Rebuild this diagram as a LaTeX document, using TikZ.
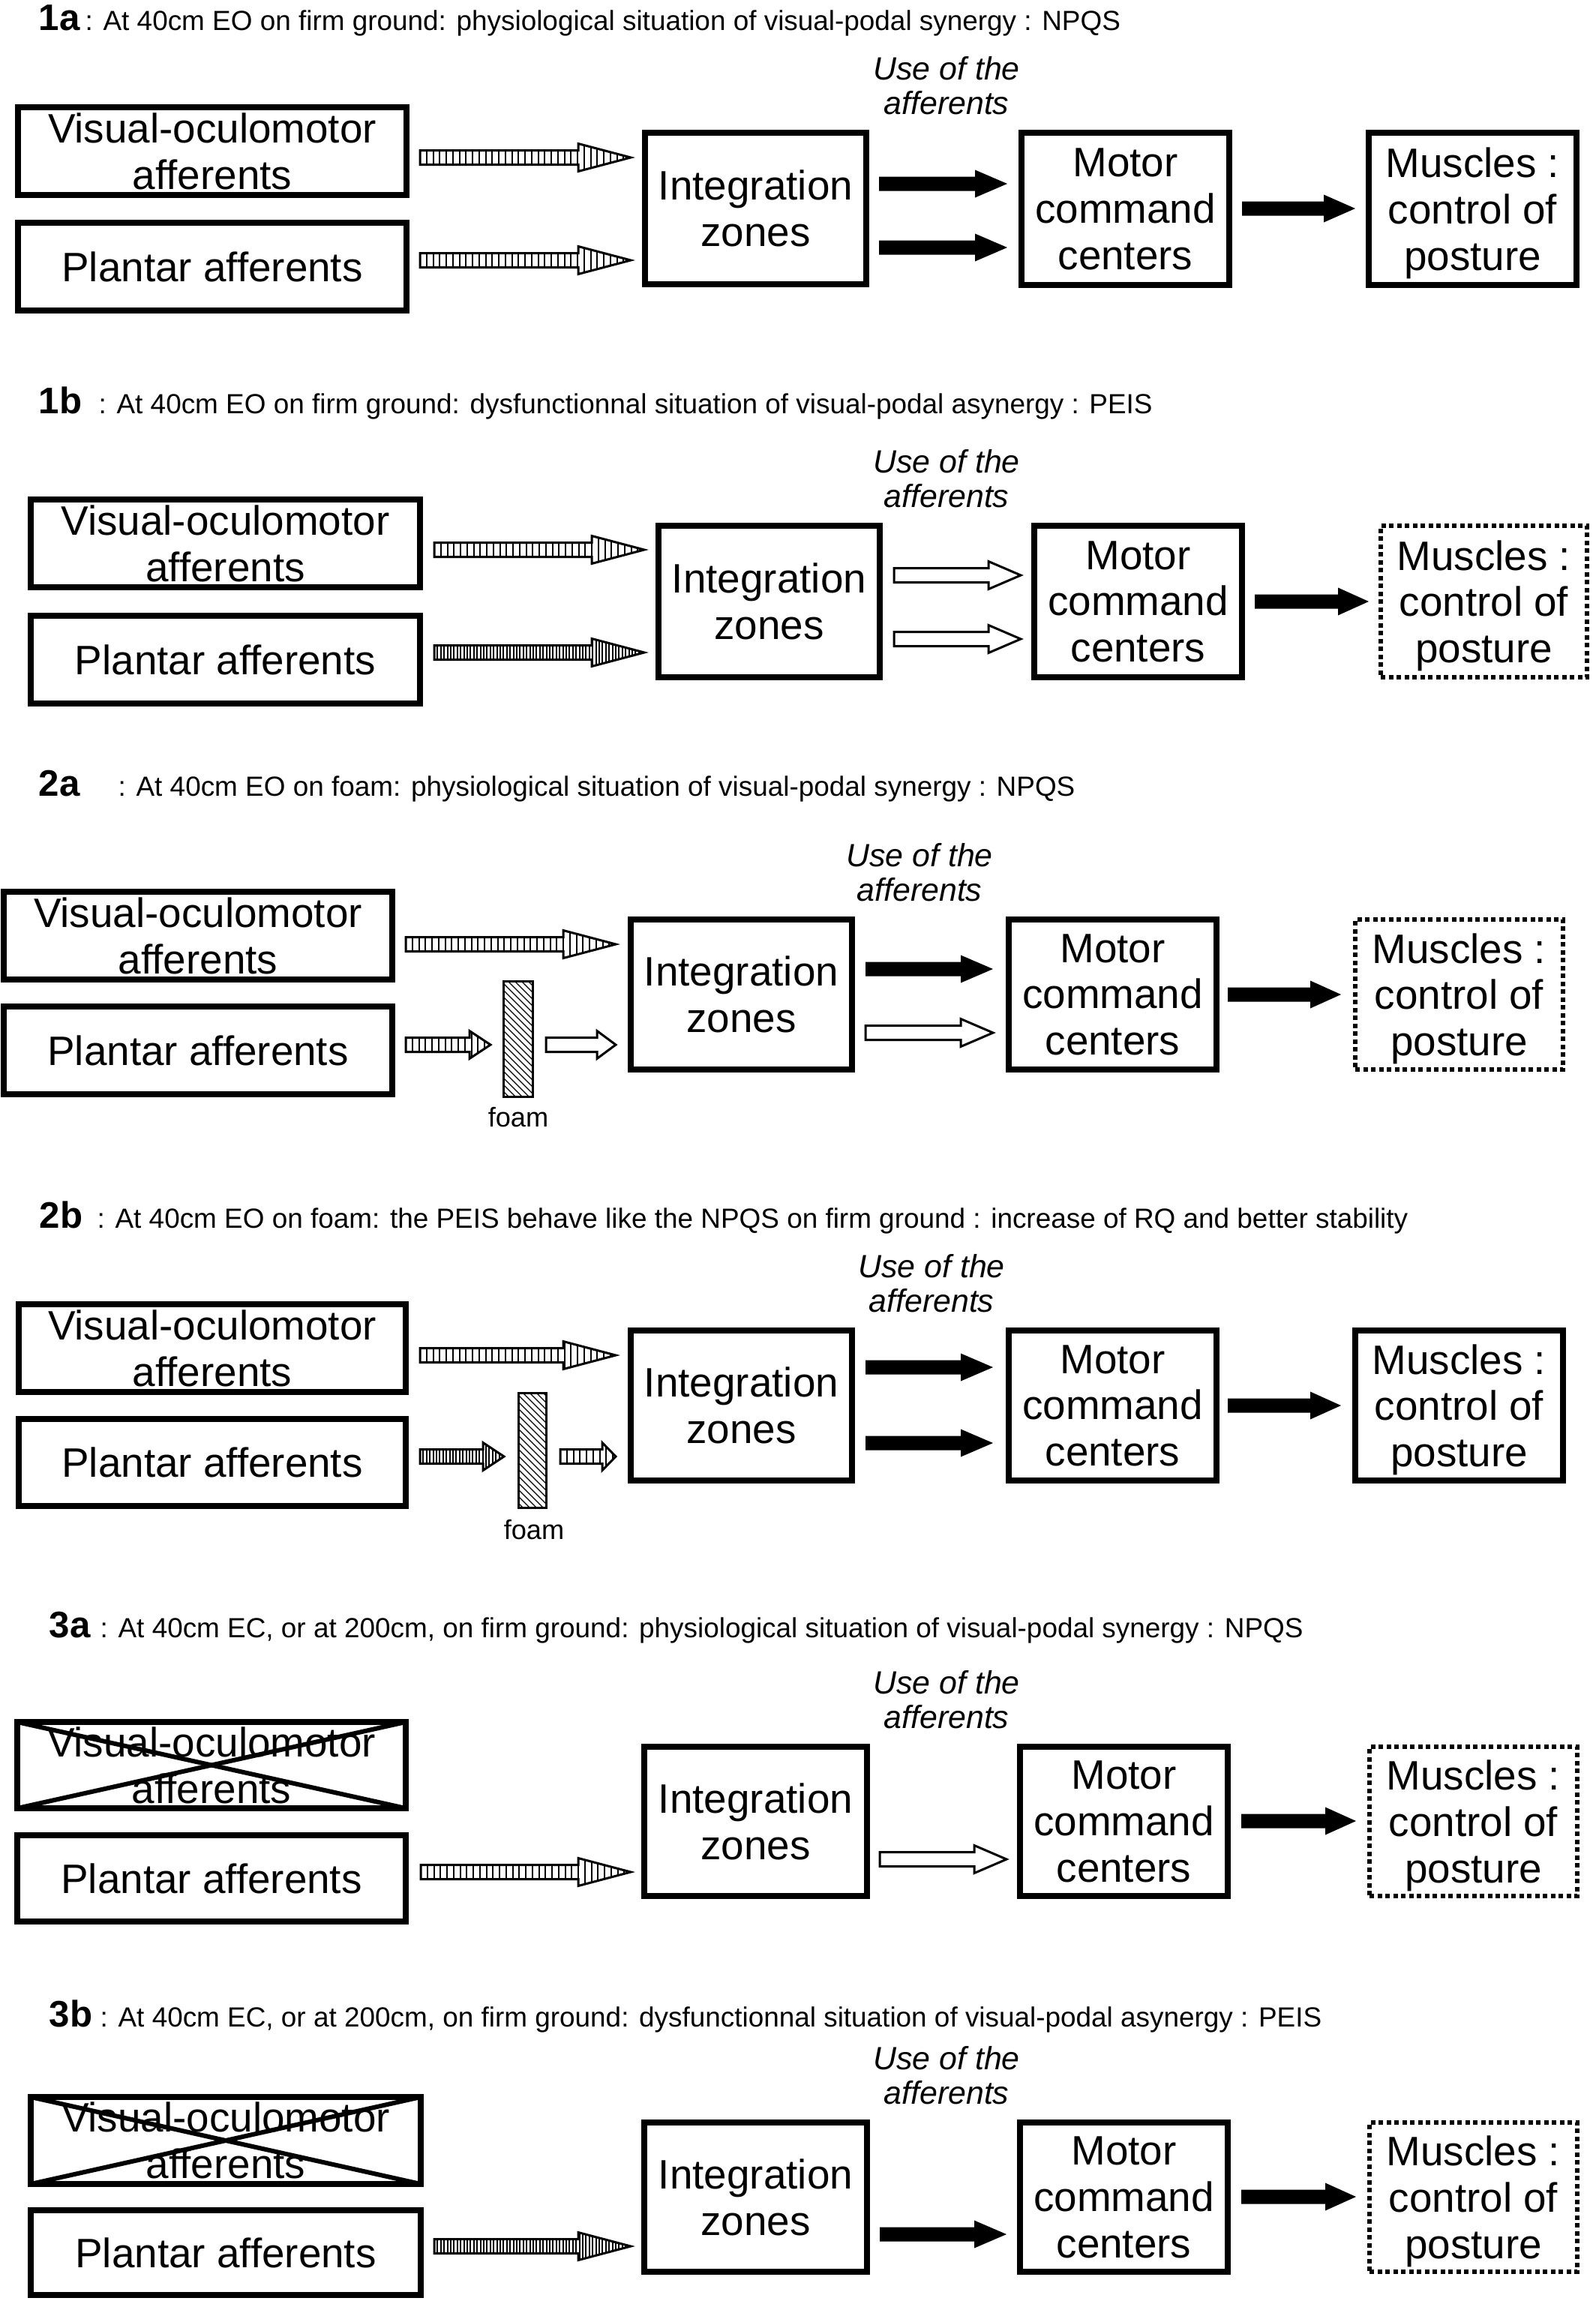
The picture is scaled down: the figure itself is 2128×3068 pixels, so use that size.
\documentclass[tikz,border=0pt]{standalone}
\usepackage{fontspec}
\setmainfont{Liberation Sans}
\tikzset{
  bx/.style={draw, line width=0.8mm, inner sep=0pt, align=center, text depth=0pt, font=\fontsize{15.6}{17.6}\selectfont},
  dotbx/.style={draw, line width=0.65mm, dash pattern=on 0.6mm off 0.45mm, inner sep=0pt, align=center, text depth=0pt, font=\fontsize{15.6}{17.6}\selectfont},
  ttl/.style={anchor=base west, inner sep=0pt, font=\fontsize{10.5}{12}\selectfont},
  lbl/.style={anchor=base west, inner sep=0pt, font=\fontsize{14}{14}\selectfont\bfseries},
  usetxt/.style={anchor=base, inner sep=0pt, font=\fontsize{12.2}{13}\selectfont\itshape},
  foamtxt/.style={anchor=base, inner sep=0pt, font=\fontsize{10.3}{12}\selectfont},
  crossline/.style={line width=0.6mm},
}
% box: name, x1, y1, x2, y2, style, text
\newcommand{\bxat}[7]{\node[#6, minimum width={(#4-#2-8)*0.1mm}, minimum height={(#5-#3-8)*0.1mm}] (#1) at ({(#2+#4)/2},{(#3+#5)/2}) {#7};}
% black arrow: x1, x2, y, head length
\newcommand{\blackarr}[4]{\fill[black] (#1,{#3-9.5}) -- ({#2-#4},{#3-9.5}) -- ({#2-#4},{#3-18.5}) -- (#2,#3) -- ({#2-#4},{#3+18.5}) -- ({#2-#4},{#3+9.5}) -- (#1,{#3+9.5}) -- cycle;}
% hollow arrow
\newcommand{\hollowarr}[4]{\draw[line width=0.3mm, fill=white, line join=miter] (#1,{#3-9.5}) -- ({#2-#4},{#3-9.5}) -- ({#2-#4},{#3-18.5}) -- (#2,#3) -- ({#2-#4},{#3+18.5}) -- ({#2-#4},{#3+9.5}) -- (#1,{#3+9.5}) -- cycle;}
% striped arrow: x1, x2, y, head length, stripe spacing
\newcommand{\stripedarr}[5]{%
  \begin{scope}
    \clip (#1,{#3-9.5}) -- ({#2-#4},{#3-9.5}) -- ({#2-#4},{#3-18.5}) -- (#2,#3) -- ({#2-#4},{#3+18.5}) -- ({#2-#4},{#3+9.5}) -- (#1,{#3+9.5}) -- cycle;
    \pgfmathsetmacro\sa{#1+#5}\pgfmathsetmacro\sb{#1+2*#5}
    \foreach \xx in {\sa,\sb,...,#2} \draw[line width=0.2mm] (\xx,{#3-20}) -- (\xx,{#3+20});
  \end{scope}
  \draw[line width=0.3mm, line join=miter] (#1,{#3-9.5}) -- ({#2-#4},{#3-9.5}) -- ({#2-#4},{#3-18.5}) -- (#2,#3) -- ({#2-#4},{#3+18.5}) -- ({#2-#4},{#3+9.5}) -- (#1,{#3+9.5}) -- cycle;}
% foam: x1, y1, x2, y2
\newcommand{\foamrect}[4]{%
  \begin{scope}
    \clip (#1,#2) rectangle (#3,#4);
    \foreach \tt in {-60,-51,...,160} \draw[line width=0.13mm] (#1,{#2+\tt}) -- ({#1+60},{#2+\tt+60});
  \end{scope}
  \draw[line width=0.3mm] (#1,#2) rectangle (#3,#4);}
% cross over a box
\newcommand{\crossbox}[1]{%
  \draw[crossline] ([shift={(4,4)}]#1.north west) -- ([shift={(-4,-4)}]#1.south east);
  \draw[crossline] ([shift={(-4,4)}]#1.north east) -- ([shift={(4,-4)}]#1.south west);}
\begin{document}
\begin{tikzpicture}[x=0.1mm, y=-0.1mm]
\useasboundingbox[fill=white] (0,0) rectangle (2128,3068);

% ---------------- 1a ----------------
\node[lbl] (t1a) at (51,40) {1a};
\node[ttl] (s1a) at (113,40) {: At 40cm EO on firm ground: physiological situation of visual-podal synergy : NPQS};
\bxat{vo1a}{20}{139}{546}{264}{bx}{Visual-oculomotor\\afferents}
\bxat{pl1a}{20}{293}{546}{418}{bx}{Plantar afferents}
\bxat{in1a}{856}{173}{1159}{383}{bx}{Integration\\zones}
\bxat{mo1a}{1358}{173}{1643}{384}{bx}{Motor\\command\\centers}
\bxat{mu1a}{1821}{173}{2106}{384}{bx}{Muscles :\\control of\\posture}
\node[usetxt] (ua1a) at (1262,106) {Use of the};
\node[usetxt] (ub1a) at (1262,152) {afferents};
\stripedarr{560}{841}{210}{70}{8.75}
\stripedarr{560}{841}{347}{70}{8.75}
\blackarr{1172}{1343}{245}{43}
\blackarr{1172}{1343}{330}{43}
\blackarr{1656}{1807}{278}{42}

% ---------------- 1b ----------------
\node[lbl] (t1b) at (51,551) {1b};
\node[ttl] (s1b) at (131,551) {: At 40cm EO on firm ground: dysfunctionnal situation of visual-podal asynergy : PEIS};
\bxat{vo1b}{37}{662}{564}{787}{bx}{Visual-oculomotor\\afferents}
\bxat{pl1b}{37}{817}{564}{942}{bx}{Plantar afferents}
\bxat{in1b}{874}{697}{1177}{907}{bx}{Integration\\zones}
\bxat{mo1b}{1375}{697}{1660}{907}{bx}{Motor\\command\\centers}
\bxat{mu1b}{1837}{697}{2120}{907}{dotbx}{Muscles :\\control of\\posture}
\node[usetxt] (ua1b) at (1262,630) {Use of the};
\node[usetxt] (ub1b) at (1262,676) {afferents};
\stripedarr{579}{859}{733}{70}{8.75}
\stripedarr{579}{859}{870}{70}{4.4}
\hollowarr{1192}{1361}{767}{43}
\hollowarr{1192}{1361}{852}{43}
\blackarr{1673}{1825}{802}{41}

% ---------------- 2a ----------------
\node[lbl] (t2a) at (51,1061) {2a};
\node[ttl] (s2a) at (157,1061) {: At 40cm EO on foam: physiological situation of visual-podal synergy : NPQS};
\bxat{vo2a}{1}{1185}{527}{1310}{bx}{Visual-oculomotor\\afferents}
\bxat{pl2a}{1}{1338}{527}{1463}{bx}{Plantar afferents}
\bxat{in2a}{837}{1222}{1140}{1430}{bx}{Integration\\zones}
\bxat{mo2a}{1341}{1222}{1626}{1430}{bx}{Motor\\command\\centers}
\bxat{mu2a}{1803}{1222}{2088}{1430}{dotbx}{Muscles :\\control of\\posture}
\node[usetxt] (ua2a) at (1226,1155) {Use of the};
\node[usetxt] (ub2a) at (1226,1201) {afferents};
\stripedarr{541}{821}{1259}{70}{8.75}
\stripedarr{541}{654}{1393}{28}{8.75}
\foamrect{671}{1308}{710}{1462}
\node[foamtxt] (fo2a) at (691,1502) {foam};
\hollowarr{728}{821}{1393}{25}
\blackarr{1154}{1324}{1292}{43}
\hollowarr{1154}{1324}{1377}{43}
\blackarr{1637}{1788}{1326}{41}

% ---------------- 2b ----------------
\node[lbl] (t2b) at (52,1637) {2b};
\node[ttl] (s2b) at (129,1637) {: At 40cm EO on foam: the PEIS behave like the NPQS on firm ground : increase of RQ and better stability};
\bxat{vo2b}{21}{1735}{545}{1860}{bx}{Visual-oculomotor\\afferents}
\bxat{pl2b}{21}{1888}{545}{2012}{bx}{Plantar afferents}
\bxat{in2b}{837}{1770}{1140}{1978}{bx}{Integration\\zones}
\bxat{mo2b}{1341}{1770}{1626}{1978}{bx}{Motor\\command\\centers}
\bxat{mu2b}{1803}{1770}{2088}{1978}{bx}{Muscles :\\control of\\posture}
\node[usetxt] (ua2b) at (1242,1703) {Use of the};
\node[usetxt] (ub2b) at (1242,1749) {afferents};
\stripedarr{560}{821}{1807}{70}{8.75}
\stripedarr{560}{672}{1942}{28}{4.4}
\foamrect{691}{1857}{728}{2010}
\node[foamtxt] (fo2b) at (712,2052) {foam};
\stripedarr{747}{821}{1942}{18}{8.75}
\blackarr{1154}{1324}{1823}{43}
\blackarr{1154}{1324}{1924}{43}
\blackarr{1637}{1788}{1874}{41}

% ---------------- 3a ----------------
\node[lbl] (t3a) at (65,2183) {3a};
\node[ttl] (s3a) at (133,2183) {: At 40cm EC, or at 200cm, on firm ground: physiological situation of visual-podal synergy : NPQS};
\bxat{vo3a}{19}{2292}{545}{2415}{bx}{Visual-oculomotor\\afferents}
\crossbox{vo3a}
\bxat{pl3a}{19}{2443}{545}{2566}{bx}{Plantar afferents}
\bxat{in3a}{855}{2325}{1160}{2532}{bx}{Integration\\zones}
\bxat{mo3a}{1356}{2325}{1641}{2532}{bx}{Motor\\command\\centers}
\bxat{mu3a}{1822}{2325}{2107}{2532}{dotbx}{Muscles :\\control of\\posture}
\node[usetxt] (ua3a) at (1262,2258) {Use of the};
\node[usetxt] (ub3a) at (1262,2304) {afferents};
\stripedarr{561}{841}{2496}{70}{8.75}
\hollowarr{1173}{1342}{2479}{43}
\blackarr{1655}{1808}{2428}{41}

% ---------------- 3b ----------------
\node[lbl] (t3b) at (65,2702) {3b};
\node[ttl] (s3b) at (133,2702) {: At 40cm EC, or at 200cm, on firm ground: dysfunctionnal situation of visual-podal asynergy : PEIS};
\bxat{vo3b}{37}{2792}{565}{2916}{bx}{Visual-oculomotor\\afferents}
\crossbox{vo3b}
\bxat{pl3b}{37}{2943}{565}{3064}{bx}{Plantar afferents}
\bxat{in3b}{855}{2826}{1160}{3033}{bx}{Integration\\zones}
\bxat{mo3b}{1356}{2826}{1641}{3033}{bx}{Motor\\command\\centers}
\bxat{mu3b}{1822}{2826}{2107}{3033}{dotbx}{Muscles :\\control of\\posture}
\node[usetxt] (ua3b) at (1262,2759) {Use of the};
\node[usetxt] (ub3b) at (1262,2805) {afferents};
\stripedarr{579}{841}{2995}{70}{4.4}
\blackarr{1173}{1342}{2979}{43}
\blackarr{1655}{1808}{2929}{41}
\end{tikzpicture}
\end{document}
